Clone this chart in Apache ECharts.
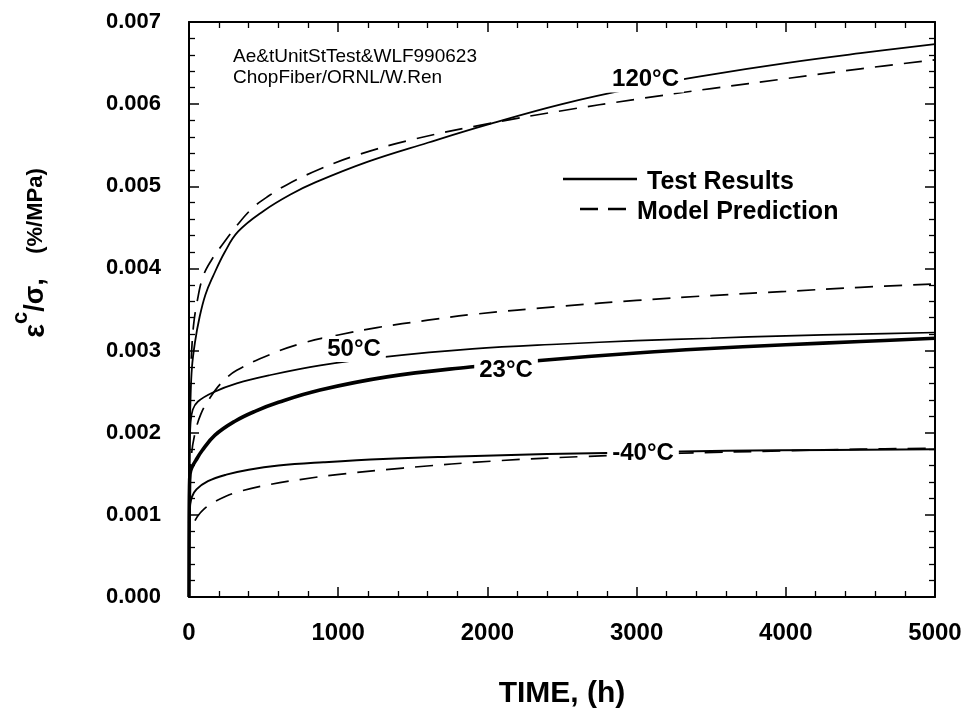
<!DOCTYPE html>
<html><head><meta charset="utf-8">
<script src="https://cdn.jsdelivr.net/npm/echarts@6/dist/echarts.min.js"></script>
<style>html,body{margin:0;padding:0;background:#fff}#c{width:966px;height:719px}</style>
</head><body><div id="c"></div>
<script>
// ---- data ----
const t120Test = [0, 2, 5, 10, 20, 40, 70, 110, 160, 240, 330, 500, 680, 850, 1200, 1600, 2000, 2500, 3000, 3500, 4000, 4500, 5000];
const v120Test = [0, 0.0012, 0.0019, 0.0024, 0.0028, 0.0031, 0.0034, 0.00368, 0.0039, 0.0042, 0.00445, 0.0047, 0.0049, 0.00505, 0.0053, 0.00553, 0.00575, 0.0060, 0.0062, 0.00636, 0.0065, 0.00662, 0.00673];
const t120Model = [15, 30, 55, 94, 150, 228, 320, 429, 540, 657, 878, 1126, 1500, 2000, 2500, 3000, 3500, 4000, 4500, 5000];
const v120Model = [0.0029, 0.0033, 0.0036, 0.0039, 0.0041, 0.0043, 0.00452, 0.00474, 0.00489, 0.00502, 0.00521, 0.00538, 0.00557, 0.00576, 0.00592, 0.00606, 0.00619, 0.00631, 0.00643, 0.00654];

const t50Test = [0, 2, 5, 10, 25, 60, 160, 320, 540, 880, 1300, 1900, 2500, 3000, 3500, 4000, 4500, 5000];
const v50Test = [0, 0.0012, 0.0018, 0.0021, 0.00228, 0.00238, 0.00249, 0.0026, 0.0027, 0.00282, 0.00292, 0.00302, 0.00308, 0.00312, 0.00315, 0.00318, 0.0032, 0.00322];
const t50Model = [5, 15, 35, 80, 150, 230, 320, 540, 760, 1000, 1260, 1600, 1900, 2500, 3000, 3500, 4000, 4500, 5000];
const v50Model = [0.0014, 0.0017, 0.00195, 0.00223, 0.00245, 0.00263, 0.00276, 0.00295, 0.00309, 0.00319, 0.00328, 0.00337, 0.00344, 0.00354, 0.00361, 0.00367, 0.00372, 0.00377, 0.00381];

const t23Test = [0, 1, 3, 7, 20, 45, 87, 174, 308, 442, 600, 878, 1327, 1883, 2352, 3000, 3425, 4000, 4500, 5000];
const v23Test = [0, 0.0009, 0.0013, 0.0015, 0.00158, 0.00166, 0.00178, 0.00197, 0.00214, 0.00226, 0.00237, 0.00252, 0.00268, 0.0028, 0.00288, 0.00297, 0.00302, 0.00307, 0.00311, 0.00315];

const tM40Test = [0, 1, 3, 8, 20, 50, 127, 250, 400, 600, 900, 1300, 1800, 2400, 3000, 3600, 4300, 5000];
const vM40Test = [0, 0.0007, 0.001, 0.00113, 0.00122, 0.00131, 0.00141, 0.00149, 0.00155, 0.0016, 0.00164, 0.00168, 0.00171, 0.00174, 0.00176, 0.00178, 0.00179, 0.0018];
const tM40Model = [40, 60, 100, 154, 240, 328, 543, 744, 992, 1434, 2084, 2640, 3300, 4000, 4500, 5000];
const vM40Model = [0.00093, 0.00099, 0.00107, 0.00114, 0.00122, 0.00128, 0.00137, 0.00143, 0.00149, 0.00157, 0.00166, 0.00171, 0.00175, 0.00178, 0.0018, 0.00181];

const curveLabelTexts = ['120°C', '50°C', '23°C', '-40°C'];
const curveLabelTimes = [3060, 1106, 2125, 3043];
const curveLabelValues = [0.0063, 0.00302, 0.00276, 0.00175];

const xTickLabels = [0, 1000, 2000, 3000, 4000, 5000];
const yTickLabels = ['0.000', '0.001', '0.002', '0.003', '0.004', '0.005', '0.006', '0.007'];

// ---- chart ----
const FONT = '"Liberation Sans", Arial, sans-serif';
const pairs = (t, v) => t.map((x, i) => [x, v[i]]);
const chart = echarts.init(document.getElementById('c'), null, {renderer: 'canvas'});

const axisLine = {show: true, onZero: false, lineStyle: {color: '#000', width: 2}};
const axisTick = {show: true, inside: true, length: 10, lineStyle: {color: '#000', width: 1.5}};
const minorTick = {show: true, splitNumber: 5, length: 6, lineStyle: {color: '#000', width: 1.3}};

function lineSeries(name, t, v, width, dashed) {
  return {
    name, type: 'line', data: pairs(t, v), showSymbol: false, symbol: 'none',
    smooth: 0.4, silent: true,
    lineStyle: {color: '#000', width, type: dashed ? [18, 11] : 'solid'}
  };
}

const option = {
  animation: false,
  backgroundColor: '#fff',
  grid: {left: 189, right: 31, top: 22, bottom: 122, containLabel: false},
  xAxis: [
    {type: 'value', min: 0, max: 5000, interval: 1000, position: 'bottom',
     axisLine, axisTick, minorTick, splitLine: {show: false},
     axisLabel: {margin: 24, color: '#000', fontSize: 24, fontWeight: 'bold', fontFamily: FONT,
                 formatter: v => String(xTickLabels[Math.round(v / 1000)])},
     name: 'TIME, (h)', nameLocation: 'middle', nameGap: 82,
     nameTextStyle: {color: '#000', fontSize: 30, fontWeight: 'bold', fontFamily: FONT}},
    {type: 'value', min: 0, max: 5000, interval: 1000, position: 'top',
     axisLine, axisTick, minorTick, splitLine: {show: false}, axisLabel: {show: false}}
  ],
  yAxis: [
    {type: 'value', min: 0, max: 0.007, interval: 0.001, position: 'left',
     axisLine, axisTick, minorTick, splitLine: {show: false},
     axisLabel: {margin: 28, color: '#000', fontSize: 22, fontWeight: 'bold', fontFamily: FONT,
                 formatter: v => yTickLabels[Math.round(v / 0.001)]}},
    {type: 'value', min: 0, max: 0.007, interval: 0.001, position: 'right',
     axisLine, axisTick, minorTick, splitLine: {show: false}, axisLabel: {show: false}}
  ],
  series: [
    lineSeries('120 Test', t120Test, v120Test, 1.8, false),
    lineSeries('120 Model', t120Model, v120Model, 1.7, true),
    lineSeries('50 Test', t50Test, v50Test, 1.7, false),
    lineSeries('50 Model', t50Model, v50Model, 1.7, true),
    lineSeries('23 Test', t23Test, v23Test, 3.6, false),
    lineSeries('-40 Test', tM40Test, vM40Test, 2, false),
    lineSeries('-40 Model', tM40Model, vM40Model, 1.7, true),
    {
      name: 'labels', type: 'scatter', z: 10, symbolSize: 0, silent: true,
      itemStyle: {opacity: 1},
      data: curveLabelTimes.map((t, i) => [t, curveLabelValues[i], curveLabelTexts[i]]),
      label: {show: true, position: 'inside', formatter: p => p.value[2], opacity: 1,
              color: '#000', fontSize: 24, fontWeight: 'bold', fontFamily: FONT,
              backgroundColor: '#fff', padding: [1, 5]}
    }
  ],
  graphic: [
    {type: 'text', x: 36, y: 253, rotation: Math.PI / 2, z: 20,
     style: {text: '{e|ε}{c|c}{g|/σ,}{n|    (%/MPa)}', textAlign: 'center', textVerticalAlign: 'middle',
             rich: {
               e: {fontSize: 29, fontWeight: 'bold', fontFamily: FONT, fill: '#000'},
               c: {fontSize: 22, fontWeight: 'bold', fontFamily: FONT, fill: '#000', verticalAlign: 'top', padding: [0, 0, 30, 0]},
               g: {fontSize: 27, fontWeight: 'bold', fontFamily: FONT, fill: '#000'},
               n: {fontSize: 22, fontWeight: 'bold', fontFamily: FONT, fill: '#000'}
             }}},
    {type: 'text', x: 233, y: 57, z: 20,
     style: {text: 'Ae&tUnitStTest&WLF990623', font: '19px ' + FONT, fill: '#000', textVerticalAlign: 'middle'}},
    {type: 'text', x: 233, y: 78, z: 20,
     style: {text: 'ChopFiber/ORNL/W.Ren', font: '19px ' + FONT, fill: '#000', textVerticalAlign: 'middle'}},
    {type: 'line', z: 20, shape: {x1: 563, y1: 179, x2: 637, y2: 179}, style: {stroke: '#000', lineWidth: 2.5}},
    {type: 'text', x: 647, y: 182, z: 20,
     style: {text: 'Test Results', font: 'bold 25px ' + FONT, fill: '#000', textVerticalAlign: 'middle'}},
    {type: 'line', z: 20, shape: {x1: 580, y1: 209, x2: 627, y2: 209}, style: {stroke: '#000', lineWidth: 2.5, lineDash: [18, 10]}},
    {type: 'text', x: 637, y: 212, z: 20,
     style: {text: 'Model Prediction', font: 'bold 25px ' + FONT, fill: '#000', textVerticalAlign: 'middle'}}
  ]
};
chart.setOption(option);
</script>
</body></html>
